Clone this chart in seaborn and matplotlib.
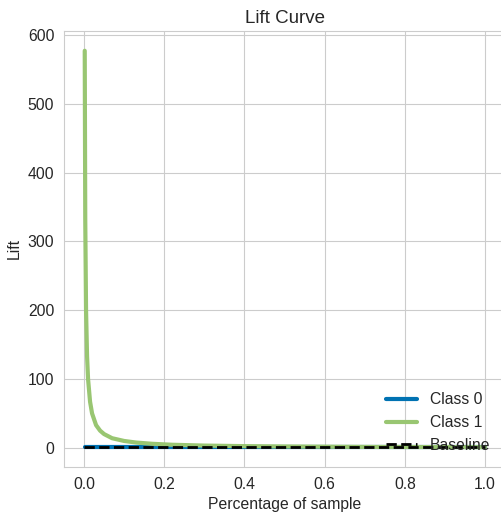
import matplotlib
matplotlib.use("Agg")
import matplotlib.pyplot as plt
import seaborn as sns
import pandas as pd

# Data
class0_x = [0.0017, 1.0]
class0_y = [1.0, 1.0]

class1_x = [0.0017, 0.003, 0.005, 0.0075, 0.01, 0.015, 0.02, 0.03, 0.04, 0.05,
            0.07, 0.1, 0.13, 0.17, 0.22, 0.3, 0.4, 0.5, 0.6, 0.7, 0.8, 0.9, 1.0]
class1_y = [577, 333, 200, 133, 100, 67, 50, 33, 25, 20,
            14, 10, 7.7, 5.9, 4.5, 3.3, 2.5, 2.0, 1.7, 1.4, 1.25, 1.1, 1.0]

baseline_x = [0, 1]
baseline_y = [1, 1]

sns.set_style("whitegrid")
plt.rcParams['font.family'] = ['Liberation Sans', 'DejaVu Sans']

fig = plt.figure(figsize=(5.02, 5.13), dpi=100)
ax = fig.add_axes([0.1275, 0.0897, 0.8785, 0.850])

df0 = pd.DataFrame({"x": class0_x, "y": class0_y})
df1 = pd.DataFrame({"x": class1_x, "y": class1_y})
dfb = pd.DataFrame({"x": baseline_x, "y": baseline_y})

sns.lineplot(data=df0, x="x", y="y", ax=ax, color="#0072B2", lw=3, label="Class 0")
sns.lineplot(data=df1, x="x", y="y", ax=ax, color="#99C672", lw=3, label="Class 1")
sns.lineplot(data=dfb, x="x", y="y", ax=ax, color="black", lw=2, linestyle="--", label="Baseline")

ax.set_title("Lift Curve", fontsize=13.5)
ax.set_xlabel("Percentage of sample", fontsize=11.3)
ax.set_ylabel("Lift", fontsize=11.3)
ax.tick_params(labelsize=11.3)
ax.set_xticks([0.0, 0.2, 0.4, 0.6, 0.8, 1.0])
ax.set_yticks([0, 100, 200, 300, 400, 500, 600])
ax.legend(loc="lower right", fontsize=11.3, frameon=False,
          bbox_to_anchor=(0.998, 0.0))

fig.savefig("out.png", dpi=100)
